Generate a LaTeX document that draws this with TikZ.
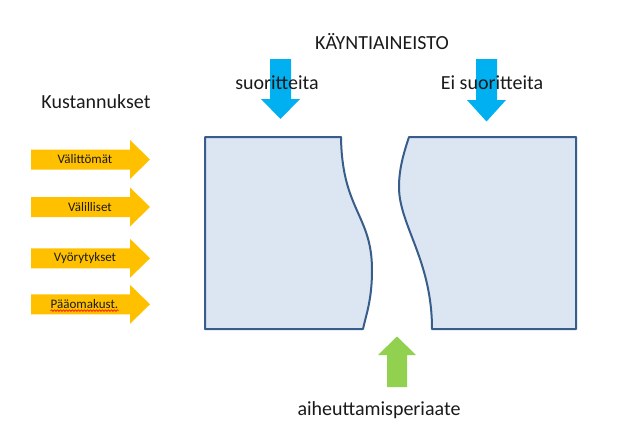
\documentclass[tikz,border=0pt]{standalone}
\usepackage{fontspec}
\setmainfont{Carlito}
\usetikzlibrary{decorations.pathmorphing}
\definecolor{orng}{HTML}{FFC000}
\definecolor{skyb}{HTML}{00B0F0}
\definecolor{grn}{HTML}{92D050}
\definecolor{boxfill}{HTML}{DCE6F2}
\definecolor{boxline}{HTML}{385D8A}
\definecolor{txt}{HTML}{1A1A1A}
\begin{document}
\begin{tikzpicture}[x=1pt,y=-1pt,
  bigtxt/.style={text=txt,font=\fontsize{20}{22}\selectfont,inner sep=0pt},
  smalltxt/.style={text=txt,font=\fontsize{13}{14}\selectfont,inner sep=0pt},
  blockshape/.style={fill=boxfill,draw=boxline,line width=2pt,line join=round},
  orangearrow/.style={fill=orng},
  bluearrow/.style={fill=skyb},
  greenarrow/.style={fill=grn}]
\useasboundingbox (0,0) rectangle (619,442);
% blocks
\path[blockshape] (205,137) -- (341,137) .. controls (342,210) and (372,215) .. (372,270)
  .. controls (372,300) and (366,315) .. (363,329) -- (205,329) -- cycle;
\path[blockshape] (409,137) -- (576,137) -- (576,329) -- (432,329)
  .. controls (432,260) and (399,225) .. (399,187)
  .. controls (399,170) and (403,155) .. (409,137) -- cycle;
% orange arrows
\foreach \cy in {159.5,207,258.3,304.3}{
  \path[orangearrow] (31,\cy-10) -- (130,\cy-10) -- (130,\cy-19.5) -- (150,\cy) -- (130,\cy+19.5) -- (130,\cy+10) -- (31,\cy+10) -- cycle;
}
\node[smalltxt] (t1) at (85,159.5) {Välittömät};
\node[smalltxt] (t2) at (90,207) {Välilliset};
\node[smalltxt] (t3) at (85,258.3) {Vyörytykset};
\node[smalltxt] (t4) at (84.5,304.3) {Pääomakust.};
\draw[red,line width=0.6pt,decorate,decoration={snake,amplitude=0.8pt,segment length=3pt}]
  ([yshift=-1.5pt]t4.south west) -- ([yshift=-1.5pt]t4.south east);
% blue arrows
\path[bluearrow] (270,59) -- (291,59) -- (291,99) -- (300,99) -- (280.5,119) -- (261,99) -- (270,99) -- cycle;
\path[bluearrow] (476,59) -- (497,59) -- (497,100) -- (506,100) -- (486.5,121.5) -- (467,100) -- (476,100) -- cycle;
% green arrow
\path[greenarrow] (387,387) -- (407,387) -- (407,355) -- (416,355) -- (397,336.5) -- (378,355) -- (387,355) -- cycle;
% texts
\node[bigtxt] (kay) at (382,42) {KÄYNTIAINEISTO};
\node[bigtxt] (suo) at (277,83) {suoritteita};
\node[bigtxt] (eisuo) at (492,83) {Ei suoritteita};
\node[bigtxt] (kust) at (96,102) {Kustannukset};
\node[bigtxt] (aih) at (379,410) {aiheuttamisperiaate};
\end{tikzpicture}
\end{document}
